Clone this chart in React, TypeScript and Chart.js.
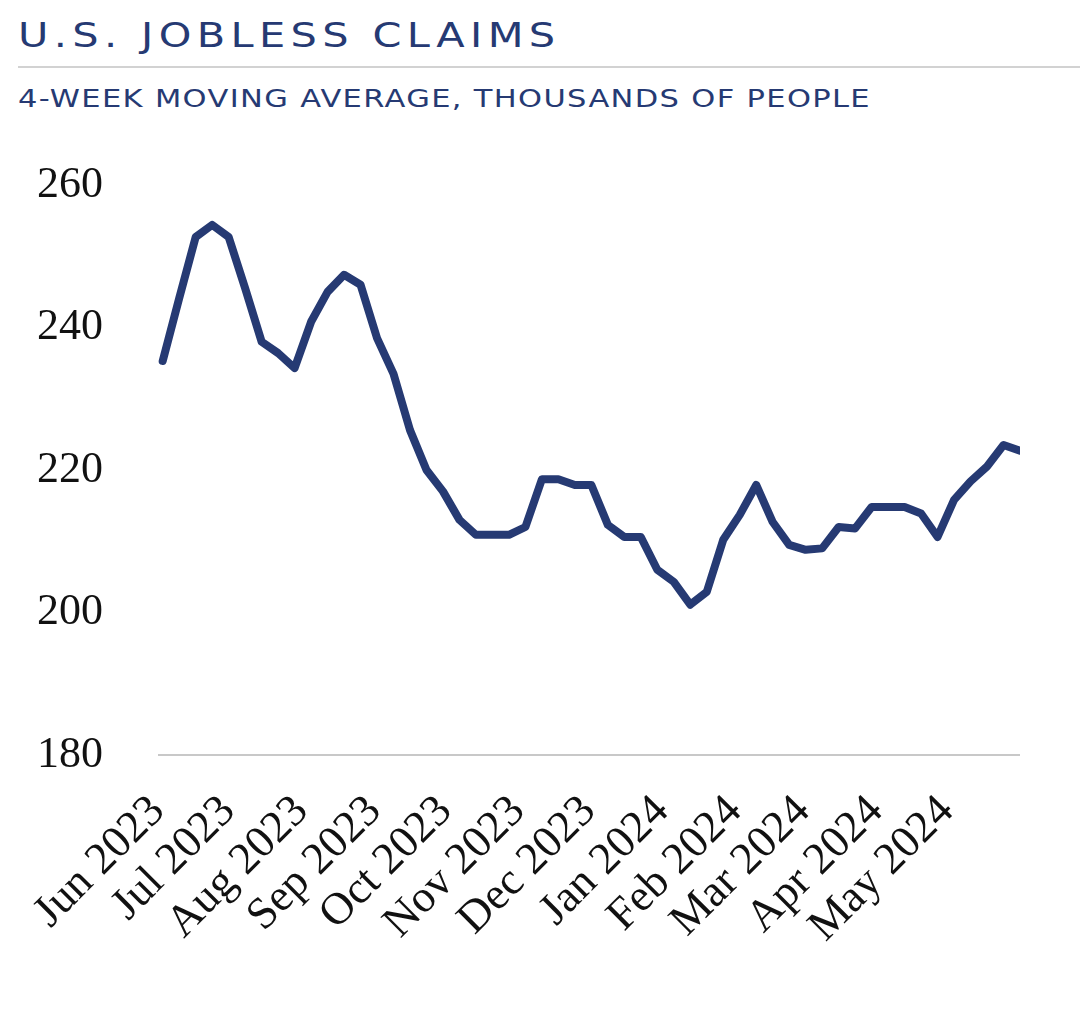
import React, { useEffect, useRef } from 'react';
import { Chart, registerables } from 'chart.js';

Chart.register(...registerables);

const TITLE = 'U.S. JOBLESS CLAIMS';
const SUBTITLE = '4-WEEK MOVING AVERAGE, THOUSANDS OF PEOPLE';

// Weekly 4-week moving average of initial claims (thousands), week ending Jun 3, 2023 onward
const claims = [
  235.3, 244.1, 252.7, 254.4, 252.7, 245.5, 238.0, 236.4, 234.3, 240.8,
  245.0, 247.4, 246.0, 238.5, 233.5, 225.6, 220.0, 217.0, 213.0, 210.9,
  210.9, 210.9, 212.0, 218.7, 218.7, 217.9, 217.9, 212.3, 210.6, 210.6,
  206.0, 204.3, 201.1, 202.9, 210.2, 213.7, 217.9, 212.7, 209.5, 208.8,
  209.0, 212.0, 211.8, 214.8, 214.8, 214.8, 213.9, 210.6, 215.8, 218.4,
  220.5, 223.5, 222.7,
];

// Days counted from Jun 1, 2023
const FIRST_WEEK_DAY = 2; // Jun 3, 2023
const DAYS_PER_WEEK = 7;
const AXIS_END_DAY = 366; // Jun 1, 2024

const monthTickDays = [0, 30, 61, 92, 122, 153, 183, 214, 245, 274, 305, 335];
const monthLabels = [
  'Jun 2023', 'Jul 2023', 'Aug 2023', 'Sep 2023', 'Oct 2023', 'Nov 2023',
  'Dec 2023', 'Jan 2024', 'Feb 2024', 'Mar 2024', 'Apr 2024', 'May 2024',
];
const yTickValues = [180, 200, 220, 240, 260];

const NAVY = '#263a73';
const TICK_FONT = '"Liberation Serif", "Times New Roman", serif';
const HEAD_FONT = '"DejaVu Sans", sans-serif';

export default function App() {
  const canvasRef = useRef<HTMLCanvasElement | null>(null);

  useEffect(() => {
    const points = claims.map((v, i) => ({ x: FIRST_WEEK_DAY + DAYS_PER_WEEK * i, y: v }));
    const chart = new Chart(canvasRef.current as HTMLCanvasElement, {
      type: 'line',
      data: {
        datasets: [
          {
            data: points,
            borderColor: NAVY,
            backgroundColor: NAVY,
            borderWidth: 8,
            pointRadius: 0,
            tension: 0,
            fill: false,
            borderJoinStyle: 'round',
            borderCapStyle: 'round',
          },
        ],
      },
      options: {
        animation: false,
        responsive: true,
        maintainAspectRatio: false,
        layout: { padding: { top: 55, right: 60, left: 0, bottom: 0 } },
        plugins: {
          legend: { display: false },
          tooltip: { enabled: false },
          title: { display: false },
        },
        scales: {
          x: {
            type: 'linear',
            min: 0,
            max: AXIS_END_DAY,
            afterFit: (s: any) => {
              s.height = 265;
            },
            afterBuildTicks: (s: any) => {
              s.ticks = monthTickDays.map((v) => ({ value: v }));
            },
            ticks: {
              autoSkip: false,
              minRotation: 45,
              maxRotation: 45,
              padding: 15,
              color: '#111111',
              font: { family: TICK_FONT, size: 45, lineHeight: 1.65 },
              callback: (_v: any, i: number) => monthLabels[i],
            },
            grid: { display: false },
            border: { display: false },
          },
          y: {
            min: 180,
            max: 260,
            afterFit: (s: any) => {
              s.width = 158;
              s.paddingTop = 0;
              s.paddingBottom = 0;
            },
            afterBuildTicks: (s: any) => {
              s.ticks = yTickValues.map((v) => ({ value: v }));
            },
            ticks: {
              padding: 55,
              color: '#111111',
              font: { family: TICK_FONT, size: 44 },
            },
            grid: {
              drawTicks: false,
              lineWidth: 2,
              color: (ctx: any) =>
                ctx.tick && ctx.tick.value === 180 ? '#c8c8c8' : 'rgba(0,0,0,0)',
            },
            border: { display: false },
          },
        },
      },
    });
    return () => chart.destroy();
  }, []);

  return (
    <div
      style={{
        position: 'absolute',
        left: 0,
        top: 0,
        width: 1080,
        height: 1020,
        background: '#ffffff',
        overflow: 'hidden',
      }}
    >
      <div
        style={{
          position: 'absolute',
          left: 18,
          top: 18,
          fontFamily: HEAD_FONT,
          fontSize: 34,
          lineHeight: '34px',
          letterSpacing: '4.4px',
          color: NAVY,
          whiteSpace: 'nowrap',
          transform: 'scaleX(1.22)',
          transformOrigin: 'left top',
        }}
      >
        {TITLE}
      </div>
      <div
        style={{
          position: 'absolute',
          left: 18,
          top: 66,
          width: 1062,
          height: 2,
          background: '#d2d2d2',
        }}
      />
      <div
        style={{
          position: 'absolute',
          left: 18,
          top: 86,
          fontFamily: HEAD_FONT,
          fontSize: 25,
          lineHeight: '25px',
          letterSpacing: '1.1px',
          color: NAVY,
          whiteSpace: 'nowrap',
          transform: 'scaleX(1.22)',
          transformOrigin: 'left top',
        }}
      >
        {SUBTITLE}
      </div>
      <div
        style={{
          position: 'absolute',
          left: 0,
          top: 130,
          width: 1080,
          height: 890,
        }}
      >
        <canvas ref={canvasRef} />
      </div>
    </div>
  );
}
